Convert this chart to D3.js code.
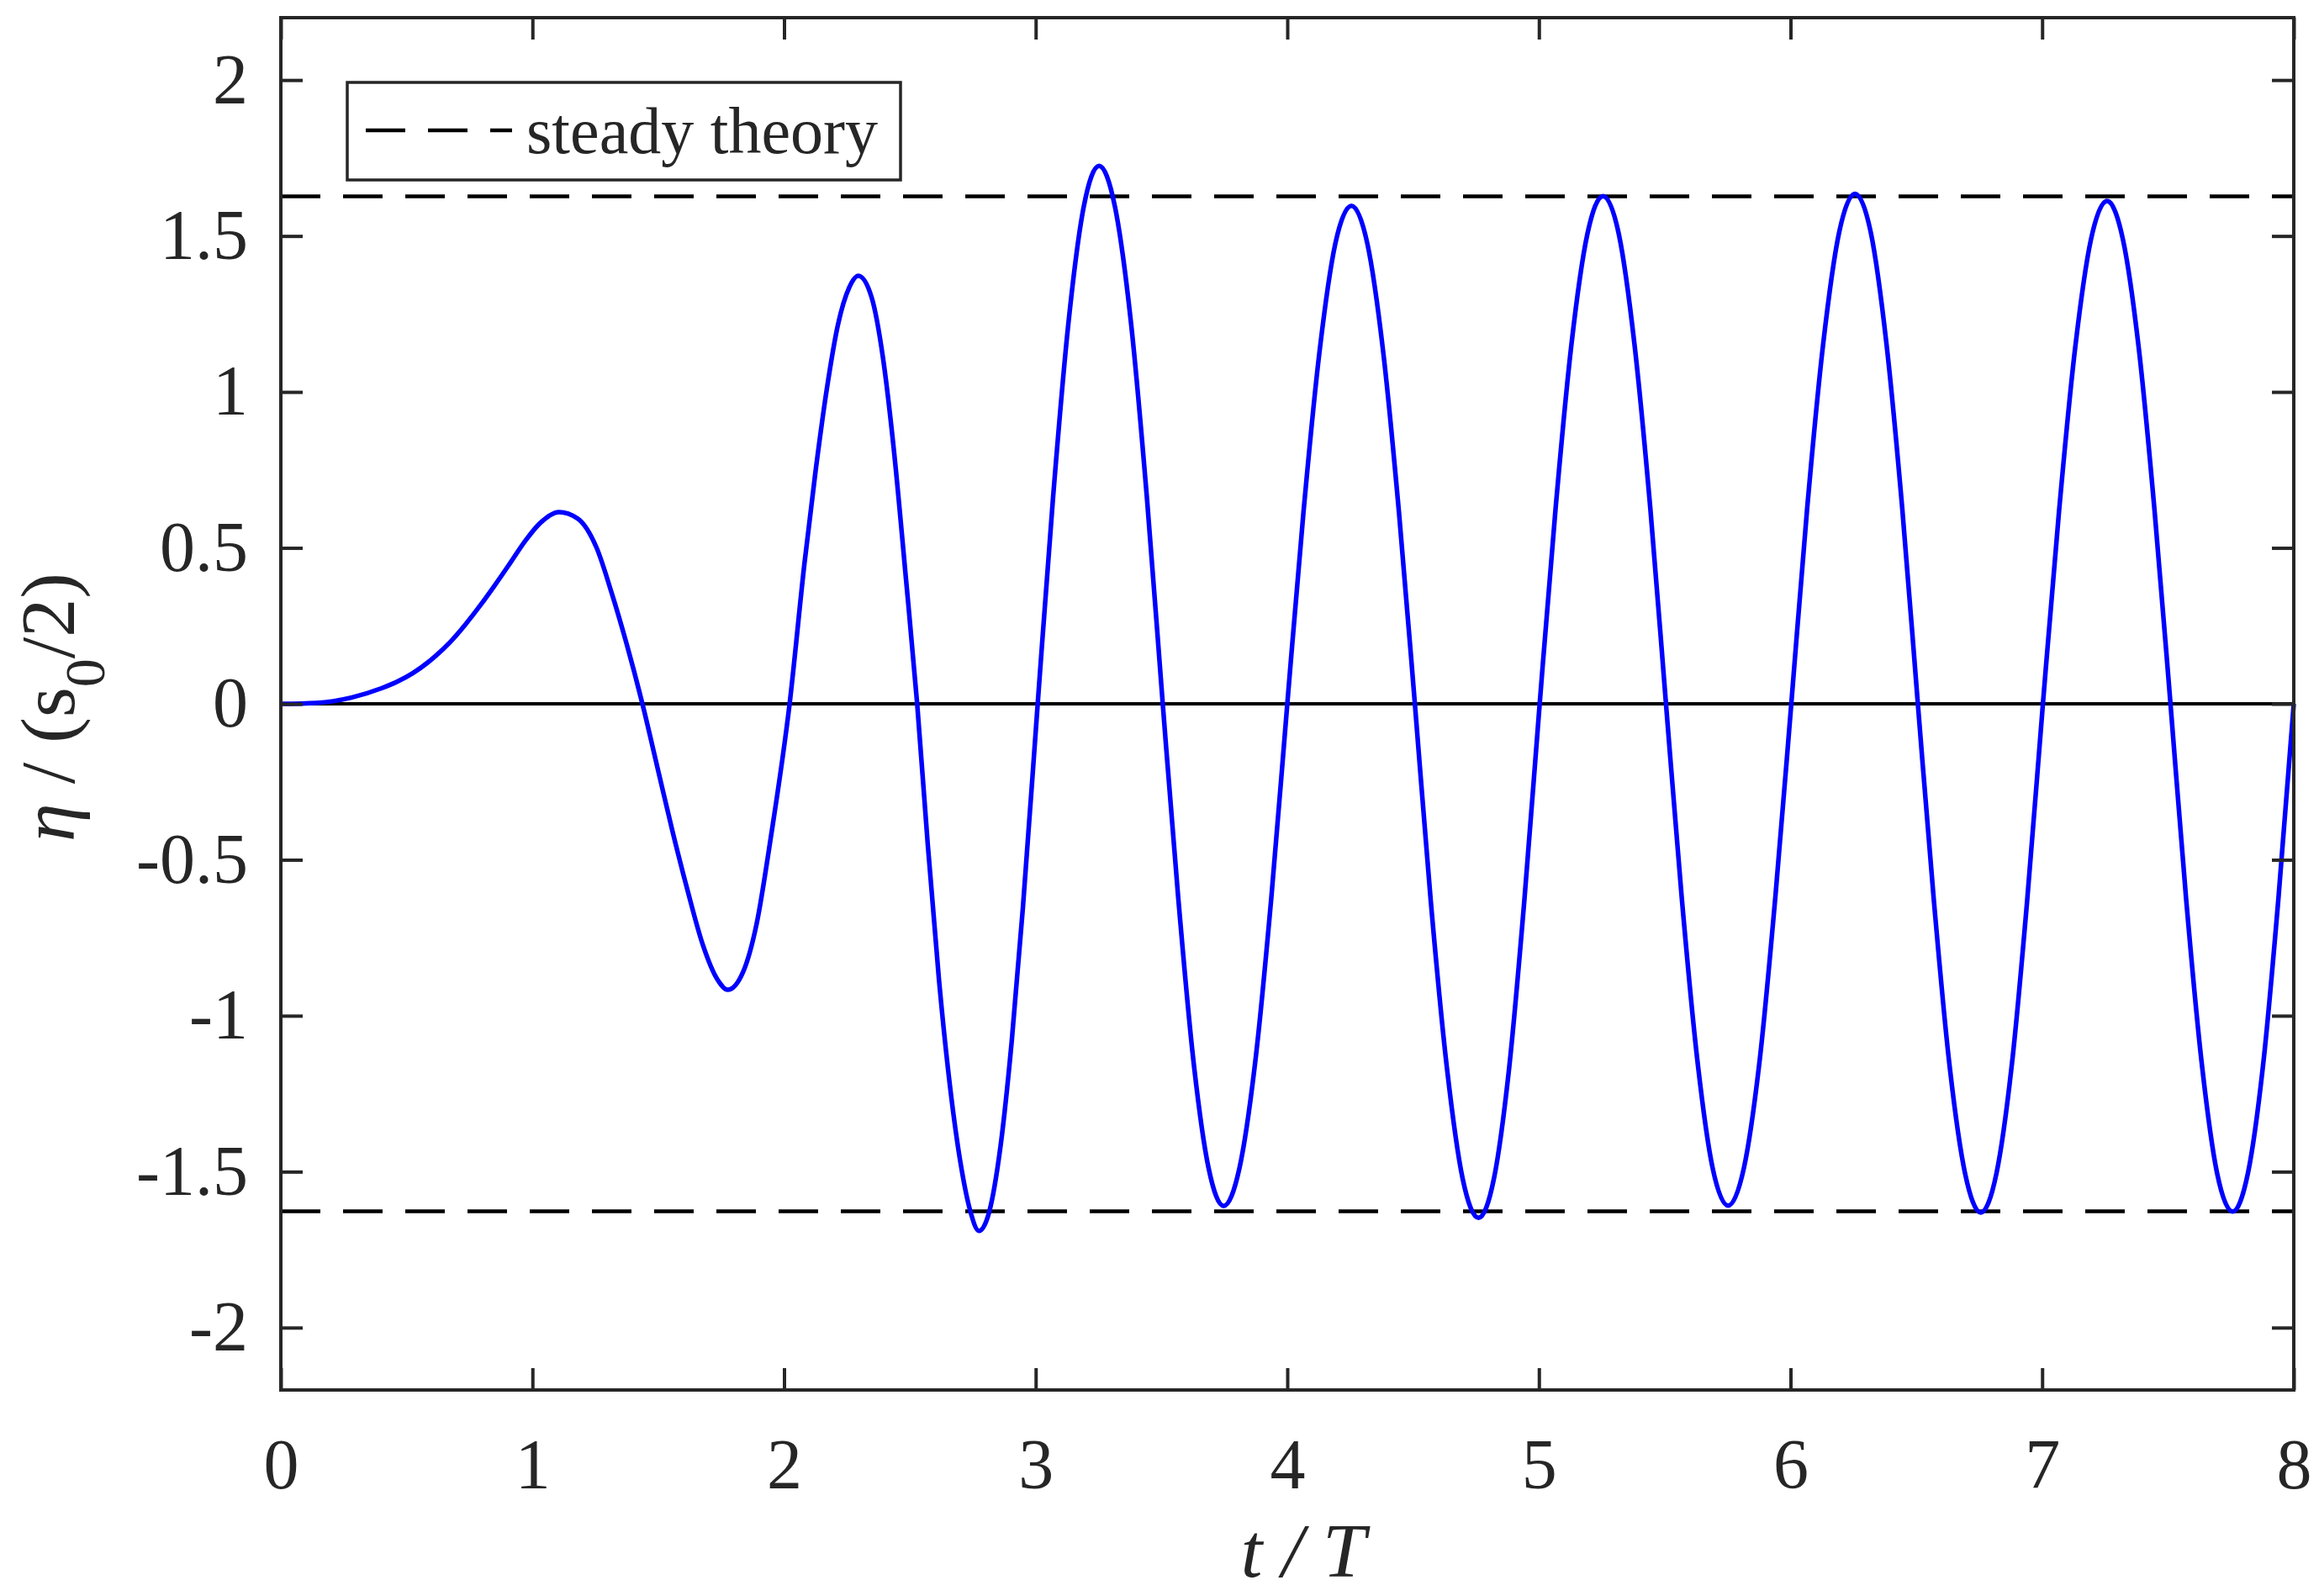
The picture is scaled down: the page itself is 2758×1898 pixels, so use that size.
<!DOCTYPE html>
<html>
<head>
<meta charset="utf-8">
<script src="https://cdn.jsdelivr.net/npm/d3@7"></script>
<style>
  html, body { margin: 0; padding: 0; background: #fff; }
  svg { display: block; }
  text { font-family: "Liberation Serif", "Times New Roman", serif; fill: #262626; }
</style>
</head>
<body>
<svg id="chart" width="2758" height="1898"></svg>
<script>
// ---- data ----
const xTicks = [0, 1, 2, 3, 4, 5, 6, 7, 8];
const yTicks = [-2, -1.5, -1, -0.5, 0, 0.5, 1, 1.5, 2];
const xDomain = [0, 8];
const yDomain = [-2.2, 2.2];
const steadyAmplitude = 1.627;
const legendLabel = "steady theory";

// time t/T of the sampled points of the computed elevation curve
const tValues = [
  0, 0.14, 0.28, 0.40, 0.46, 0.524, 0.613, 0.673, 0.732, 0.792, 0.852, 0.912, 0.971, 1.031, 1.105,
  1.18, 1.255, 1.315, 1.375, 1.437, 1.497, 1.557, 1.617, 1.676, 1.736, 1.776,
  1.836, 1.891, 1.947, 2.022, 2.081, 2.125, 2.17, 2.214, 2.259, 2.295,
  2.348, 2.393, 2.437, 2.482, 2.529, 2.571, 2.616, 2.66, 2.705, 2.738, 2.775,
  2.815, 2.86, 2.905, 2.949, 3.008,
  3.069, 3.13, 3.191, 3.252, 3.315, 3.379, 3.442, 3.505,
  3.566, 3.626, 3.687, 3.747, 3.810, 3.874, 3.937, 4.0,
  4.064, 4.128, 4.191, 4.255, 4.318, 4.381, 4.444, 4.507,
  4.570, 4.634, 4.697, 4.76, 4.821, 4.882, 4.942, 5.003,
  5.066, 5.129, 5.192, 5.255, 5.318, 5.38, 5.443, 5.505,
  5.567, 5.629, 5.690, 5.752, 5.815, 5.878, 5.940, 6.003,
  6.066, 6.130, 6.193, 6.256, 6.319, 6.381, 6.444, 6.506,
  6.569, 6.631, 6.694, 6.756, 6.818, 6.880, 6.941, 7.003,
  7.067, 7.131, 7.194, 7.258, 7.321, 7.384, 7.447, 7.51,
  7.572, 7.634, 7.695, 7.757, 7.818, 7.879, 7.939, 8.0
];
// eta / (s0/2) at those times
const etaValues = [
  0, 0.003, 0.02, 0.05, 0.07, 0.098, 0.152, 0.198, 0.253, 0.315, 0.382, 0.452, 0.522, 0.58, 0.615,
  0.594, 0.50, 0.355, 0.19, 0, -0.205, -0.41, -0.60, -0.77, -0.885, -0.917,
  -0.862, -0.705, -0.43, 0, 0.45, 0.745, 1.01, 1.215, 1.335, 1.372,
  1.303, 1.11, 0.809, 0.422, 0, -0.45, -0.888, -1.23, -1.49, -1.62, -1.69,
  -1.63, -1.42, -1.08, -0.655, 0,
  0.661, 1.22, 1.594, 1.725, 1.594, 1.22, 0.661, 0,
  -0.617, -1.138, -1.488, -1.61, -1.488, -1.138, -0.617, 0,
  0.612, 1.129, 1.476, 1.597, 1.476, 1.129, 0.612, 0,
  -0.631, -1.165, -1.523, -1.648, -1.523, -1.165, -0.631, 0,
  0.624, 1.151, 1.504, 1.628, 1.504, 1.151, 0.624, 0,
  -0.616, -1.138, -1.487, -1.609, -1.487, -1.138, -0.616, 0,
  0.626, 1.156, 1.511, 1.635, 1.511, 1.156, 0.626, 0,
  -0.625, -1.153, -1.507, -1.631, -1.507, -1.153, -0.625, 0,
  0.617, 1.14, 1.489, 1.612, 1.489, 1.14, 0.617, 0,
  -0.624, -1.151, -1.504, -1.628, -1.504, -1.151, -0.624, 0
];

// ---- layout ----
const plot = { left: 334, right: 2728, top: 21, bottom: 1653 };
const axisColor = "#262626";

const svg = d3.select("#chart");
const x = d3.scaleLinear().domain(xDomain).range([plot.left, plot.right]);
const y = d3.scaleLinear().domain(yDomain).range([plot.bottom, plot.top]);

const fmt = d => String(d);

// zero line
svg.append("line")
  .attr("x1", x(xDomain[0])).attr("x2", x(xDomain[1]))
  .attr("y1", y(0)).attr("y2", y(0))
  .attr("stroke", "#000").attr("stroke-width", 4);

// steady theory lines
[steadyAmplitude, -steadyAmplitude].forEach(a => {
  svg.append("line")
    .attr("x1", x(xDomain[0])).attr("x2", x(xDomain[1]))
    .attr("y1", y(a)).attr("y2", y(a))
    .attr("stroke", "#000").attr("stroke-width", 4.5)
    .attr("stroke-dasharray", "47,27");
});

// computed curve
const pts = tValues.map((t, i) => [t, etaValues[i]]);
const line = d3.line().x(d => x(d[0])).y(d => y(d[1])).curve(d3.curveMonotoneX);
svg.append("path").datum(pts)
  .attr("d", line)
  .attr("fill", "none").attr("stroke", "#0000ff").attr("stroke-width", 5.5)
  .attr("stroke-linejoin", "round");

// axes
const fontSize = 84;
const gB = svg.append("g").attr("transform", `translate(0,${plot.bottom})`)
  .call(d3.axisBottom(x).tickValues(xTicks).tickFormat(fmt).tickSizeInner(-26).tickSizeOuter(0).tickPadding(57));
const gT = svg.append("g").attr("transform", `translate(0,${plot.top})`)
  .call(d3.axisTop(x).tickValues(xTicks).tickFormat("").tickSizeInner(-26).tickSizeOuter(0));
const gL = svg.append("g").attr("transform", `translate(${plot.left},0)`)
  .call(d3.axisLeft(y).tickValues(yTicks).tickFormat(fmt).tickSizeInner(-26).tickSizeOuter(0).tickPadding(39));
const gR = svg.append("g").attr("transform", `translate(${plot.right},0)`)
  .call(d3.axisRight(y).tickValues(yTicks).tickFormat("").tickSizeInner(-26).tickSizeOuter(0));

[gB, gT, gL, gR].forEach(g => {
  g.select(".domain").remove();
  g.selectAll(".tick line").attr("stroke", axisColor).attr("stroke-width", 4);
  g.selectAll(".tick text")
    .attr("fill", axisColor)
    .style("font-family", '"Liberation Serif", "Times New Roman", serif')
    .style("font-size", fontSize + "px");
});

// frame
svg.append("rect")
  .attr("x", plot.left).attr("y", plot.top)
  .attr("width", plot.right - plot.left).attr("height", plot.bottom - plot.top)
  .attr("fill", "none").attr("stroke", axisColor).attr("stroke-width", 4);

// x label (all italic)
svg.append("text")
  .attr("x", 1550).attr("y", 1875)
  .attr("text-anchor", "middle")
  .style("font-size", "92px").style("font-style", "italic")
  .text("t / T");

// y label
const yl = svg.append("text")
  .attr("transform", `translate(88,${(plot.top + plot.bottom) / 2 + 4}) rotate(-90)`)
  .attr("text-anchor", "middle").style("font-size", "92px");
yl.append("tspan").style("font-style", "italic").text("η");
yl.append("tspan").text(" / (s");
yl.append("tspan").attr("dy", 36).style("font-size", "68px").text("0");
yl.append("tspan").attr("dy", -36).text("/2)");

// legend
const lg = svg.append("g");
lg.append("rect")
  .attr("x", 413).attr("y", 98).attr("width", 658).attr("height", 116)
  .attr("fill", "#fff").attr("stroke", axisColor).attr("stroke-width", 3.5);
lg.append("line")
  .attr("x1", 435).attr("x2", 609).attr("y1", 155).attr("y2", 155)
  .attr("stroke", "#000").attr("stroke-width", 4.5).attr("stroke-dasharray", "47,27");
lg.append("text")
  .attr("x", 626).attr("y", 182)
  .style("font-size", "78px").attr("fill", "#000")
  .text(legendLabel);
</script>
</body>
</html>
